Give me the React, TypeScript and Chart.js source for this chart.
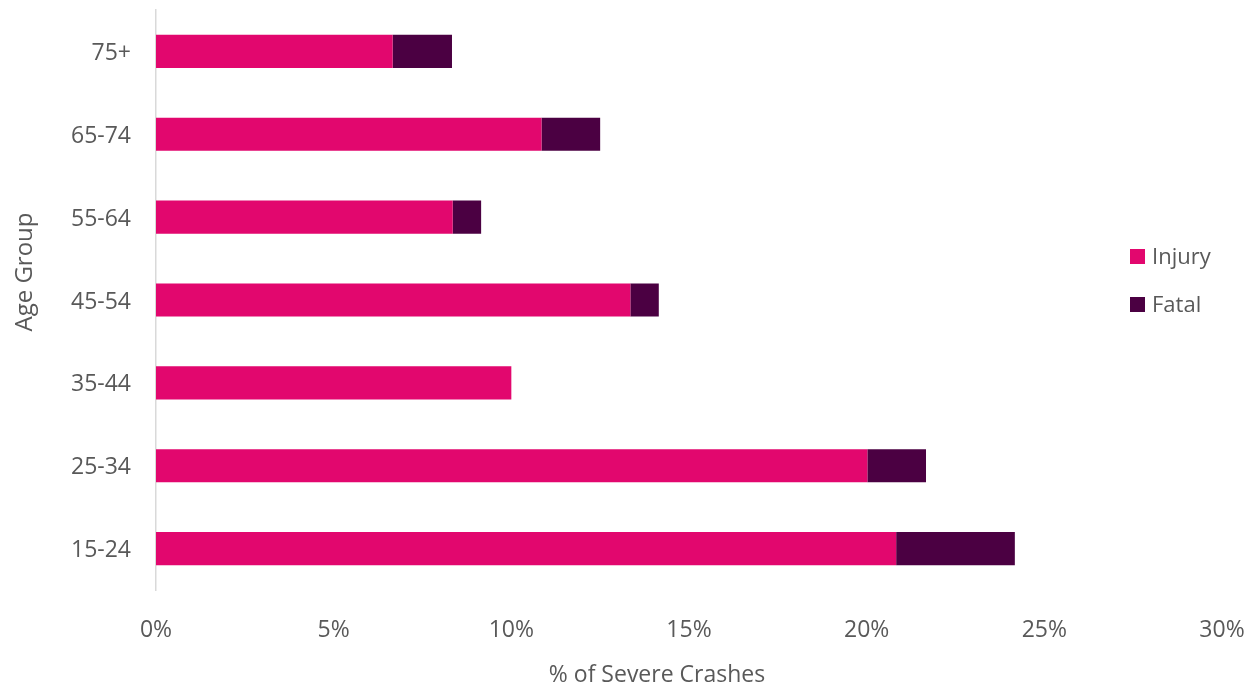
import React, { useEffect, useRef } from "react";
import { Chart, registerables } from "chart.js";

Chart.register(...registerables);

const categories = ["75+", "65-74", "55-64", "45-54", "35-44", "25-34", "15-24"];
const injury = [6.66, 10.85, 8.35, 13.35, 10.0, 20.02, 20.83];
const fatal = [1.67, 1.65, 0.8, 0.8, 0, 1.65, 3.34];
const xTicks = [0, 5, 10, 15, 20, 25, 30];
const seriesNames = ["Injury", "Fatal"];
const seriesColors = ["#E2076E", "#4B0042"];
const xTitle = "% of Severe Crashes";
const yTitle = "Age Group";

const FONT = "'Open Sans', sans-serif";
const TEXT = "#595959";

const overlayPlugin = {
  id: "overlayText",
  afterDraw(chart: any) {
    const ctx = chart.ctx;
    ctx.save();
    // legend
    ctx.font = `22px ${FONT}`;
    ctx.textBaseline = "middle";
    ctx.textAlign = "left";
    chart.data.datasets.forEach((ds: any, i: number) => {
      const cy = 256.5 + i * 48;
      ctx.fillStyle = ds.backgroundColor;
      ctx.fillRect(1130, cy - 7.5, 15, 15);
      ctx.fillStyle = TEXT;
      ctx.fillText(ds.label, 1152, cy + 1);
    });
    // axis titles
    ctx.font = `23px ${FONT}`;
    ctx.fillStyle = TEXT;
    ctx.textAlign = "center";
    ctx.fillText(xTitle, 657, 675);
    ctx.translate(25, 272);
    ctx.rotate(-Math.PI / 2);
    ctx.font = `24px ${FONT}`;
    ctx.fillText(yTitle, 0, 0);
    ctx.restore();
  },
};

export default function App() {
  const ref = useRef<HTMLCanvasElement | null>(null);
  useEffect(() => {
    document.body.style.margin = "0";
    if (!ref.current) return;
    const chart = new Chart(ref.current, {
      type: "bar",
      data: {
        labels: categories,
        datasets: [
          { label: seriesNames[0], data: injury, backgroundColor: seriesColors[0], borderWidth: 0 },
          { label: seriesNames[1], data: fatal, backgroundColor: seriesColors[1], borderWidth: 0 },
        ],
      },
      options: {
        indexAxis: "y",
        animation: false,
        responsive: true,
        maintainAspectRatio: false,
        layout: { padding: { top: 10, right: 28, left: 0, bottom: 0 } },
        datasets: { bar: { barPercentage: 0.4, categoryPercentage: 1 } },
        plugins: { legend: { display: false }, tooltip: { enabled: false } },
        scales: {
          x: {
            stacked: true,
            min: 0,
            max: 30,
            afterBuildTicks: (scale: any) => {
              scale.ticks = xTicks.map((v) => ({ value: v }));
            },
            afterFit: (scale: any) => {
              scale.height = 96;
              scale.paddingLeft = 0;
              scale.paddingRight = 0;
            },
            grid: { display: false },
            border: { display: false },
            ticks: {
              color: TEXT,
              font: { family: FONT, size: 23 },
              padding: 19,
              callback: (v: any) => `${v}%`,
            },
            title: { display: false },
          },
          y: {
            stacked: true,
            afterFit: (scale: any) => {
              scale.width = 156;
              scale.paddingTop = 0;
              scale.paddingBottom = 0;
            },
            grid: { display: false },
            border: { display: true, color: "#D9D9D9", width: 1.5 },
            ticks: {
              color: TEXT,
              font: { family: FONT, size: 23 },
              padding: 17,
              labelOffset: 2,
            },
            title: { display: false },
          },
        },
      },
      plugins: [overlayPlugin],
    });
    return () => chart.destroy();
  }, []);
  return (
    <div style={{ width: 1250, height: 686, position: "relative" }}>
      <canvas ref={ref} />
    </div>
  );
}
